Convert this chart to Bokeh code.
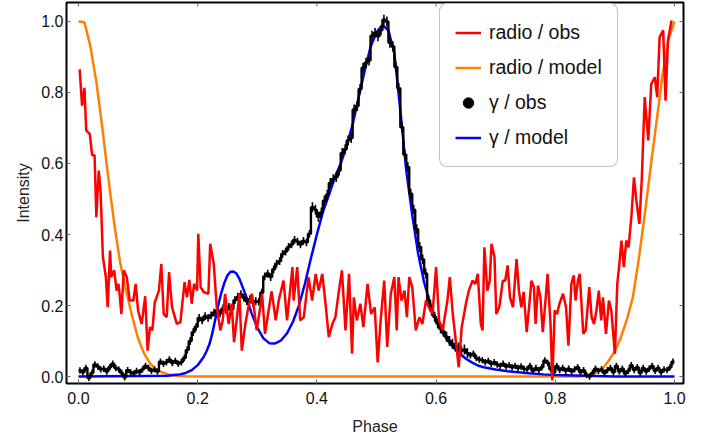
import numpy as np
from bokeh.plotting import figure
from bokeh.models import (Range1d, FixedTicker, NumeralTickFormatter,
                          Legend, LegendItem)
from bokeh.embed import file_html
from bokeh.resources import INLINE

# ---------------- data ----------------
ticks = [0.0, 0.2, 0.4, 0.6, 0.8, 1.0]

radio_phase = [
    0.002, 0.006, 0.010, 0.013, 0.019, 0.023, 0.027, 0.030, 0.034, 0.037,
    0.041, 0.046, 0.049, 0.053, 0.055, 0.060, 0.064, 0.067, 0.069, 0.072,
    0.076, 0.081, 0.086, 0.092, 0.096, 0.100, 0.106, 0.112, 0.116, 0.120,
    0.124, 0.128, 0.135, 0.139, 0.143, 0.148, 0.152, 0.157, 0.165, 0.171,
    0.178, 0.182, 0.186, 0.190, 0.194, 0.199, 0.201, 0.205, 0.210, 0.218,
    0.221, 0.227, 0.232, 0.238, 0.242, 0.246, 0.252, 0.257, 0.261, 0.266,
    0.270, 0.274, 0.280, 0.285, 0.291, 0.295, 0.299, 0.305, 0.308, 0.313,
    0.319, 0.324, 0.331, 0.336, 0.344, 0.350, 0.359, 0.361, 0.367, 0.372,
    0.378, 0.386, 0.392, 0.398, 0.403, 0.409, 0.414, 0.420, 0.426, 0.431,
    0.437, 0.442, 0.448, 0.454, 0.459, 0.462, 0.467, 0.473, 0.478, 0.485,
    0.491, 0.497, 0.502, 0.507, 0.513, 0.518, 0.524, 0.530, 0.534, 0.537,
    0.542, 0.547, 0.551, 0.555, 0.560, 0.566, 0.572, 0.577, 0.583, 0.588,
    0.594, 0.600, 0.605, 0.611, 0.619, 0.623, 0.628, 0.633, 0.638, 0.643,
    0.650, 0.655, 0.661, 0.666, 0.670, 0.675, 0.678, 0.681, 0.686, 0.690,
    0.693, 0.698, 0.701, 0.706, 0.712, 0.716, 0.720, 0.724, 0.729, 0.735,
    0.739, 0.743, 0.747, 0.752, 0.756, 0.760, 0.764, 0.767, 0.771, 0.775,
    0.779, 0.784, 0.787, 0.792, 0.795, 0.799, 0.803, 0.807, 0.813, 0.818,
    0.822, 0.827, 0.831, 0.834, 0.838, 0.841, 0.847, 0.851, 0.857, 0.861,
    0.865, 0.869, 0.873, 0.877, 0.880, 0.885, 0.890, 0.894, 0.900, 0.904,
    0.907, 0.911, 0.915, 0.919, 0.923, 0.928, 0.932, 0.936, 0.941, 0.945,
    0.950, 0.956, 0.961, 0.967, 0.971, 0.975, 0.981, 0.985, 0.989, 0.995,
]
radio_obs = [
    0.865, 0.763, 0.813, 0.693, 0.683, 0.623, 0.623, 0.449, 0.580, 0.524,
    0.336, 0.280, 0.195, 0.355, 0.280, 0.299, 0.242, 0.261, 0.233, 0.176,
    0.299, 0.280, 0.214, 0.214, 0.261, 0.186, 0.148, 0.226, 0.073, 0.139,
    0.130, 0.209, 0.242, 0.317, 0.176, 0.167, 0.294, 0.195, 0.148, 0.153,
    0.266, 0.223, 0.272, 0.205, 0.261, 0.242, 0.402, 0.252, 0.238, 0.233,
    0.374, 0.317, 0.195, 0.130, 0.158, 0.233, 0.148, 0.205, 0.097, 0.167,
    0.233, 0.073, 0.148, 0.195, 0.233, 0.186, 0.130, 0.195, 0.233, 0.120,
    0.186, 0.240, 0.158, 0.214, 0.270, 0.158, 0.308, 0.214, 0.308, 0.158,
    0.167, 0.280, 0.214, 0.289, 0.242, 0.289, 0.214, 0.111, 0.148, 0.167,
    0.242, 0.299, 0.130, 0.289, 0.064, 0.223, 0.158, 0.205, 0.139, 0.261,
    0.176, 0.195, 0.040, 0.158, 0.270, 0.083, 0.233, 0.280, 0.130, 0.280,
    0.214, 0.242, 0.167, 0.280, 0.252, 0.130, 0.167, 0.148, 0.214, 0.195,
    0.176, 0.308, 0.158, 0.130, 0.214, 0.280, 0.176, 0.101, 0.026, 0.139,
    0.205, 0.242, 0.270, 0.261, 0.289, 0.148, 0.130, 0.364, 0.242, 0.270,
    0.374, 0.336, 0.176, 0.195, 0.270, 0.270, 0.313, 0.223, 0.195, 0.331,
    0.242, 0.195, 0.238, 0.125, 0.195, 0.270, 0.252, 0.148, 0.256, 0.223,
    0.125, 0.223, 0.289, 0.148, -0.011, 0.186, 0.176, 0.205, 0.233, 0.195,
    0.087, 0.261, 0.285, 0.214, 0.270, 0.289, 0.120, 0.130, 0.252, 0.167,
    0.148, 0.186, 0.242, 0.158, 0.223, 0.120, 0.214, 0.186, 0.064, 0.261,
    0.308, 0.383, 0.308, 0.383, 0.364, 0.458, 0.561, 0.496, 0.430, 0.552,
    0.787, 0.665, 0.824, 0.843, 0.787, 0.956, 0.975, 0.777, 0.946, 1.003,
]

radio_model_phase = [0.0, 0.01, 0.02, 0.03, 0.04, 0.05, 0.06, 0.07, 0.08, 0.09,
                     0.10, 0.11, 0.12, 0.13, 0.14, 0.15, 0.16, 0.18, 0.20, 0.84,
                     0.86, 0.87, 0.88, 0.89, 0.90, 0.91, 0.92, 0.93, 0.94, 0.95,
                     0.96, 0.97, 0.98, 0.99, 1.0]
radio_model = [1.0, 0.998, 0.93, 0.83, 0.70, 0.56, 0.43, 0.32, 0.24, 0.17,
               0.107, 0.065, 0.037, 0.02, 0.012, 0.006, 0.003, 0.001, 0.0, 0.0,
               0.004, 0.012, 0.024, 0.045, 0.072, 0.11, 0.16, 0.222, 0.33, 0.455,
               0.59, 0.72, 0.85, 0.95, 1.0]

gamma_model_phase = [0.0, 0.15, 0.16, 0.17, 0.18, 0.19, 0.20,
                     0.21, 0.215, 0.22, 0.225, 0.23, 0.235, 0.24, 0.245, 0.25, 0.255, 0.26, 0.265, 0.27,
                     0.28, 0.29, 0.30, 0.31, 0.32, 0.33, 0.34, 0.35, 0.36, 0.37, 0.38, 0.39, 0.40,
                     0.41, 0.42, 0.43, 0.44, 0.45, 0.46, 0.47, 0.48, 0.49, 0.50, 0.51, 0.52, 0.53, 0.54,
                     0.55, 0.56, 0.57, 0.58, 0.59, 0.60, 0.61, 0.62, 0.63, 0.64, 0.65, 0.66, 0.67, 0.68,
                     0.70, 0.72, 0.75, 0.78, 0.80, 0.85, 0.90, 1.0]
gamma_model = [0.0, 0.002, 0.004, 0.006, 0.01, 0.018, 0.032,
               0.055, 0.072, 0.092, 0.125, 0.165, 0.205, 0.238, 0.265, 0.285, 0.295, 0.296, 0.29, 0.275,
               0.232, 0.18, 0.138, 0.108, 0.094, 0.093, 0.102, 0.122, 0.155, 0.20, 0.262, 0.333, 0.40,
               0.463, 0.51, 0.56, 0.60, 0.65, 0.71, 0.785, 0.86, 0.928, 0.97, 0.99, 0.975, 0.91, 0.75,
               0.58, 0.455, 0.345, 0.265, 0.205, 0.16, 0.125, 0.10, 0.08, 0.064, 0.05, 0.04, 0.031, 0.026,
               0.02, 0.015, 0.01, 0.006, 0.004, 0.002, 0.0, 0.0]

gamma_bin_width = 0.005
gamma_obs = [
    0.017, 0.012, 0.024, -0.004, 0.010, 0.034, 0.028, 0.020, 0.022, 0.014,
    0.026, 0.036, 0.024, 0.020, 0.010, -0.002, 0.018, 0.012, 0.008, 0.016,
    0.012, 0.020, 0.030, 0.024, 0.016, 0.020, 0.014, 0.042, 0.036, 0.040,
    0.048, 0.038, 0.044, 0.036, 0.040, 0.052, 0.075, 0.100, 0.125, 0.140,
    0.165, 0.158, 0.170, 0.165, 0.172, 0.180, 0.186, 0.178, 0.192, 0.188,
    0.196, 0.190, 0.215, 0.225, 0.232, 0.222, 0.212, 0.218, 0.208, 0.212,
    0.210, 0.236, 0.282, 0.290, 0.280, 0.302, 0.318, 0.325, 0.345, 0.352,
    0.365, 0.372, 0.385, 0.380, 0.372, 0.382, 0.378, 0.402, 0.477, 0.470,
    0.450, 0.462, 0.495, 0.512, 0.545, 0.556, 0.562, 0.580, 0.630, 0.640,
    0.665, 0.672, 0.752, 0.762, 0.810, 0.870, 0.884, 0.890, 0.960, 0.968,
    0.958, 0.975, 1.005, 1.000, 0.940, 0.930, 0.872, 0.812, 0.702, 0.625,
    0.590, 0.515, 0.470, 0.415, 0.365, 0.330, 0.290, 0.215, 0.185, 0.168,
    0.150, 0.135, 0.126, 0.112, 0.100, 0.092, 0.084, 0.082, 0.072, 0.076,
    0.066, 0.060, 0.064, 0.052, 0.048, 0.046, 0.040, 0.044, 0.036, 0.040,
    0.034, 0.030, 0.036, 0.028, 0.032, 0.026, 0.030, 0.024, 0.028, 0.022,
    0.020, 0.030, 0.016, 0.024, 0.018, 0.026, 0.045, 0.038, 0.020, 0.012,
    0.030, 0.018, 0.024, 0.016, 0.022, 0.014, 0.020, 0.026, 0.012, 0.018,
    0.004, 0.000, 0.010, 0.022, 0.016, 0.020, 0.010, 0.018, 0.024, 0.012,
    0.030, 0.014, 0.022, 0.008, 0.016, 0.032, 0.018, 0.026, 0.010, 0.024,
    0.014, 0.022, 0.030, 0.016, 0.024, 0.012, 0.020, 0.018, 0.026, 0.042,
]
gamma_err = [0.009] * 36 + [0.011] * 42 + [0.014] * 53 + [0.009] * 69

# ---------------- figure ----------------
W, H = 708, 439
X0, X1 = -0.0201, 1.0151
Y0, Y1 = -0.0197, 1.0535
p = figure(width=W, height=H, output_backend="svg", toolbar_location=None,
           x_range=Range1d(X0, X1), y_range=Range1d(Y0, Y1),
           min_border_left=66, min_border_right=25, min_border_top=2,
           min_border_bottom=56)
p.xgrid.visible = False
p.ygrid.visible = False
p.outline_line_color = "black"
p.outline_line_width = 2
p.outline_line_alpha = 1.0
p.background_fill_color = "white"
p.border_fill_color = "white"

FONT = "Liberation Sans"
TICK_COLOR = "#666666"

def style_axis(ax, label_standoff, axis_label_standoff):
    ax.ticker = FixedTicker(ticks=ticks)
    ax.formatter = NumeralTickFormatter(format="0.0")
    ax.axis_line_color = None
    ax.major_tick_in = 4
    ax.major_tick_out = 0
    ax.major_tick_line_color = TICK_COLOR
    ax.major_tick_line_width = 1
    ax.minor_tick_line_color = None
    ax.major_label_text_font = FONT
    ax.major_label_text_font_size = "16px"
    ax.major_label_text_color = "#111111"
    ax.major_label_standoff = label_standoff
    ax.axis_label_text_font = FONT
    ax.axis_label_text_font_size = "16px"
    ax.axis_label_text_font_style = "normal"
    ax.axis_label_text_color = "#222222"
    ax.axis_label_standoff = axis_label_standoff

p.xaxis.axis_label = "Phase"
p.yaxis.axis_label = "Intensity"
style_axis(p.xaxis[0], 8, 11)
style_axis(p.yaxis[0], 3, 6)

# mirrored inward ticks on the top and right edges of the frame
tick_dy = 4 * (Y1 - Y0) / 381
tick_dx = 4 * (X1 - X0) / 617
p.segment(x0=ticks, y0=[Y1] * len(ticks), x1=ticks, y1=[Y1 - tick_dy] * len(ticks),
          line_color=TICK_COLOR, line_width=1)
p.segment(x0=[X1] * len(ticks), y0=ticks, x1=[X1 - tick_dx] * len(ticks), y1=ticks,
          line_color=TICK_COLOR, line_width=1)

# ---------------- glyphs ----------------
r_orange = p.line(radio_model_phase, radio_model, line_color="#FF8000", line_width=2.5)
r_blue = p.line(gamma_model_phase, gamma_model, line_color="#0000FF", line_width=2.5)

n_bins = len(gamma_obs)
edges = [i * gamma_bin_width for i in range(n_bins + 1)]
centers = [(i + 0.5) * gamma_bin_width for i in range(n_bins)]
step_y = list(gamma_obs) + [gamma_obs[-1]]
p.step(edges, step_y, mode="after", line_color="black", line_width=2.4)
p.segment(x0=centers, y0=[v - e for v, e in zip(gamma_obs, gamma_err)],
          x1=centers, y1=[v + e for v, e in zip(gamma_obs, gamma_err)],
          line_color="black", line_width=1.6)

r_red = p.line(radio_phase, radio_obs, line_color="#FF0000", line_width=2.5)

r_dot = p.scatter(x=[np.nan], y=[np.nan], size=12, marker="circle",
                  fill_color="black", line_color="black")

legend = Legend(items=[
    LegendItem(label="radio / obs", renderers=[r_red]),
    LegendItem(label="radio / model", renderers=[r_orange]),
    LegendItem(label="γ / obs", renderers=[r_dot]),
    LegendItem(label="γ / model", renderers=[r_blue]),
], location=(373, 216))
legend.label_text_font = FONT
legend.label_text_font_size = "19.5px"
legend.label_text_color = "#111111"
legend.glyph_width = 26
legend.glyph_height = 27
legend.label_height = 27
legend.label_standoff = 8
legend.spacing = 8
legend.padding = 15
legend.margin = 0
legend.border_line_color = "#888888"
legend.border_line_width = 1
legend.background_fill_color = "white"
legend.background_fill_alpha = 1.0
legend.border_radius = 8
p.add_layout(legend)

open("out.html", "w").write(file_html(p, INLINE))
